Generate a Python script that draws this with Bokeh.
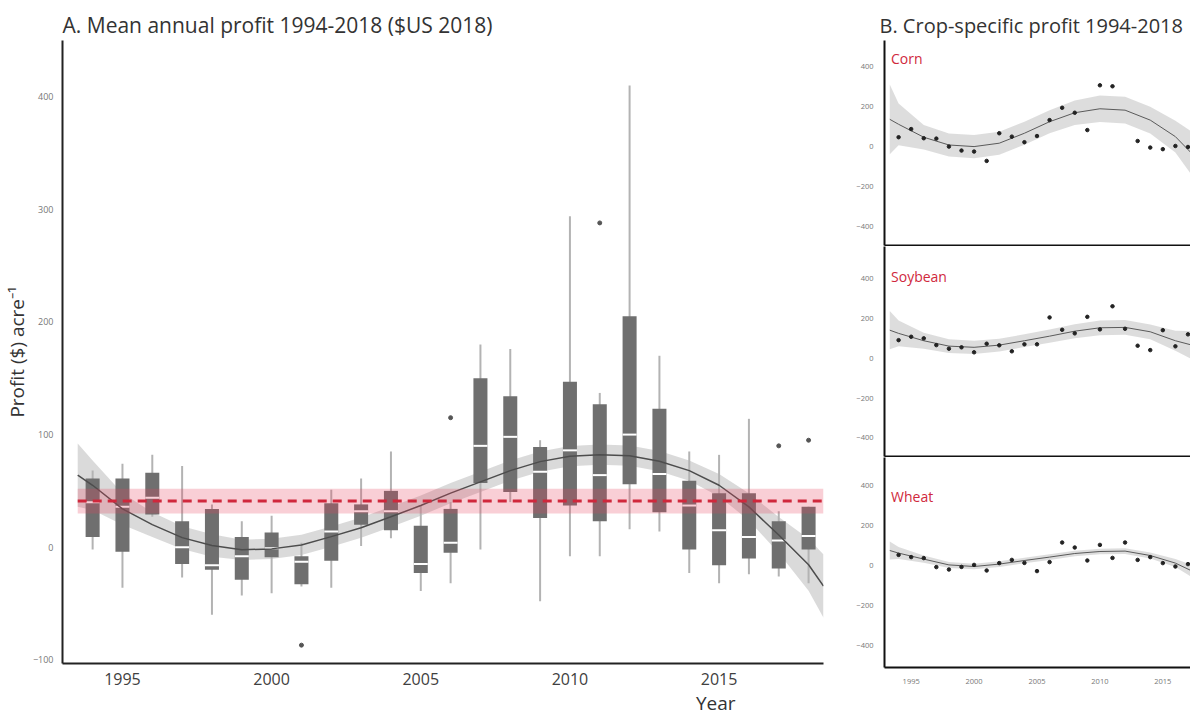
import numpy as np
from bokeh.plotting import figure
from bokeh.layouts import row, column
from bokeh.models import Range1d, FixedTicker, Label, Title
from bokeh.embed import file_html
from bokeh.resources import INLINE

# ---------------- Panel A data ----------------
years = list(range(1994, 2019))
whisker_low = [-2, -36, 27, -27, -60, -43, -41, -35, -36, 1, 8, -39, -32,
               -2, 40, -48, -8, -8, 16, 14, -23, -32, -24, -26, -32]
q1 = [9, -4, 29, -15, -20, -29, -9, -33, -12, 20, 15, -23, -5,
      57, 49, 26, 37, 23, 56, 31, -2, -16, -10, -19, -2]
median = [40, 36, 44, 0, -16, -8, -1, -13, 14, 32, 32, -15, 4,
          90, 98, 67, 86, 64, 100, 65, 37, 15, 9, 6, 10]
q3 = [61, 61, 66, 23, 34, 9, 13, -8, 39, 38, 50, 19, 34,
      150, 134, 89, 147, 127, 205, 123, 59, 48, 48, 23, 36]
whisker_high = [68, 74, 82, 72, 38, 23, 28, 4, 51, 61, 85, 37, 40,
                180, 176, 95, 294, 137, 410, 170, 85, 82, 114, 32, 36]
outlier_years = [2001, 2006, 2011, 2017, 2018]
outlier_values = [-87, 115, 288, 90, 95]

smooth_years = [1993.5] + years + [2018.5]
smooth_fit = [64, 55, 34, 20, 8.5, 1.5, -2.3, -1.5, 2, 9.4, 17.3, 27, 37, 48,
              58, 68, 76, 80.8, 82.2, 81.3, 76.4, 68, 55, 35.8, 10.8, -15.6, -34.6]
smooth_half = [28, 22, 14, 11, 10, 10, 9, 9, 9, 9, 9, 9, 9, 9,
               9, 9, 9, 9, 9, 9, 9, 9, 10, 12, 16, 23, 28]

mean_years = [1993.5, 2018.5]
mean_profit = [41, 41]
mean_low = [30, 30]
mean_high = [52, 52]

# ---------------- Panel B data ----------------
corn_years = [1994, 1995, 1996, 1997, 1998, 1999, 2000, 2001, 2002, 2003, 2004, 2005,
              2006, 2007, 2008, 2009, 2010, 2011, 2013, 2014, 2015, 2016, 2017]
corn_profit = [47, 88, 42, 40, 0, -20, -25, -72, 67, 50, 22, 53,
               133, 195, 170, 83, 308, 303, 28, -5, -13, 3, -2]
soy_years = list(range(1994, 2018))
soy_profit = [91, 108, 100, 66, 48, 55, 30, 73, 65, 35, 70, 70,
              205, 143, 125, 208, 145, 261, 148, 63, 41, 141, 60, 120]
wheat_years = list(range(1994, 2019))
wheat_profit = [53, 42, 37, -8, -20, -7, 3, -25, 12, 28, 13, -28, 17,
                115, 90, 25, 103, 38, 115, 28, 42, 12, -5, 7, 0]

fit_years = [1993.3, 1994, 1996, 1998, 2000, 2002, 2004, 2006, 2008, 2010, 2012, 2014, 2016, 2017.8]
corn_fit = [137, 112, 47, 8, 0, 17, 67, 125, 170, 190, 183, 133, 50, -67]
corn_half = [175, 105, 62, 58, 58, 58, 58, 58, 62, 67, 67, 67, 80, 120]
soy_fit = [141, 125, 88, 61, 55, 66, 88, 111, 136, 153, 155, 133, 88, 58]
soy_half = [96, 65, 40, 35, 33, 32, 32, 33, 35, 37, 37, 37, 50, 78]
wheat_fit = [75, 62, 32, 3, -5, 7, 25, 42, 60, 70, 72, 50, 12, -42]
wheat_half = [45, 30, 18, 15, 14, 14, 14, 14, 14, 14, 14, 15, 20, 35]

crop_names = ["Corn", "Soybean", "Wheat"]

FONT = "Open Sans"
RED = "#d0283c"

# ---------------- Panel A ----------------
pa = figure(frame_width=761, frame_height=623,
            x_range=Range1d(1992.99, 2018.5), y_range=Range1d(-103.3, 450),
            output_backend="svg", toolbar_location=None,
            min_border_left=55, min_border_right=19, min_border_top=40, min_border_bottom=44,
            title="A. Mean annual profit 1994-2018  ($US 2018)")
pa.title.text_font = FONT
pa.title.text_font_size = "21px"
pa.title.text_font_style = "normal"
pa.title.text_color = "#333333"
pa.title.standoff = 4
pa.title.offset = 0
pa.grid.visible = False
pa.outline_line_color = None

sy = np.array(smooth_years)
sf = np.array(smooth_fit)
sh = np.array(smooth_half)
pa.varea(x=sy, y1=sf - sh, y2=sf + sh, fill_color="#d6d6d6", fill_alpha=0.9)

pa.segment(x0=years, y0=whisker_low, x1=years, y1=whisker_high,
           line_color="#b3b3b3", line_width=2)
pa.vbar(x=years, width=0.47, bottom=q1, top=q3, fill_color="#6f6f6f", line_color=None)
pa.scatter(x=years, y=median, marker="dash", size=14, line_color="white", line_width=2)
pa.scatter(x=outlier_years, y=outlier_values, size=4, color="#555555")

pa.line(x=sy, y=sf, line_color="#4d4d4d", line_width=1.5)

pa.varea(x=mean_years, y1=mean_low, y2=mean_high, fill_color="#e8415a", fill_alpha=0.25)
pa.line(x=mean_years, y=mean_profit, line_color=RED, line_width=3, line_dash="9 6")

pa.xaxis.ticker = FixedTicker(ticks=[1995, 2000, 2005, 2010, 2015])
pa.yaxis.ticker = FixedTicker(ticks=[-100, 0, 100, 200, 300, 400])
for ax in (pa.xaxis[0], pa.yaxis[0]):
    ax.axis_line_color = "#222222"
    ax.axis_line_width = 2
    ax.major_tick_line_color = None
    ax.minor_tick_line_color = None
    ax.major_label_text_font = FONT
pa.xaxis.major_label_text_font_size = "16px"
pa.xaxis.major_label_text_color = "#404040"
pa.xaxis.major_label_standoff = 3
pa.yaxis.major_label_text_font_size = "9px"
pa.yaxis.major_label_text_color = "#777777"
pa.yaxis.major_label_standoff = 3
pa.yaxis.axis_label = "Profit ($) acre\u207b\u00b9"
pa.yaxis.axis_label_text_font = FONT
pa.yaxis.axis_label_text_font_size = "19px"
pa.yaxis.axis_label_text_font_style = "normal"
pa.yaxis.axis_label_text_color = "#333333"
pa.yaxis.axis_label_standoff = 0

pa.add_layout(Title(text="Year", align="right", offset=88, standoff=0,
                    text_font=FONT, text_font_size="19px", text_font_style="normal",
                    text_color="#333333"), "below")

# ---------------- Panel B ----------------
def crop_panel(name, xs, ys, fit, half, yr, frame_h, top_border, show_x, label_y, title=None):
    p = figure(frame_width=306, frame_height=frame_h,
               x_range=Range1d(1992.88, 2017.2), y_range=Range1d(*yr),
               output_backend="svg", toolbar_location=None,
               min_border_left=42, min_border_right=0, min_border_top=top_border,
               min_border_bottom=30 if show_x else 1, title=title)
    if title is not None:
        p.title.text_font = FONT
        p.title.text_font_size = "20px"
        p.title.text_font_style = "normal"
        p.title.text_color = "#333333"
        p.title.standoff = 4
        p.title.offset = -5
    p.grid.visible = False
    p.outline_line_color = None
    fx = np.array(fit_years)
    ff = np.array(fit)
    fh = np.array(half)
    p.varea(x=fx, y1=ff - fh, y2=ff + fh, fill_color="#d9d9d9", fill_alpha=0.9)
    p.line(x=fx, y=ff, line_color="#5a5a5a", line_width=1)
    p.scatter(x=xs, y=ys, size=3.5, color="#222222")
    p.add_layout(Label(x=1993.4, y=label_y, text=name, text_align="left",
                       text_baseline="top", text_font=FONT, text_font_size="14px",
                       text_color=RED))
    p.yaxis.ticker = FixedTicker(ticks=[-400, -200, 0, 200, 400])
    p.yaxis.major_label_text_font_size = "7.5px"
    p.yaxis.major_label_text_color = "#777777"
    p.yaxis.major_label_text_font = FONT
    p.yaxis.major_label_standoff = 5
    for ax in (p.xaxis[0], p.yaxis[0]):
        ax.axis_line_color = "#111111"
        ax.axis_line_width = 2
        ax.major_tick_line_color = None
        ax.minor_tick_line_color = None
    if show_x:
        p.xaxis.ticker = FixedTicker(ticks=[1995, 2000, 2005, 2010, 2015])
        p.xaxis.major_label_text_font_size = "7.5px"
        p.xaxis.major_label_text_color = "#777777"
        p.xaxis.major_label_text_font = FONT
        p.xaxis.major_label_standoff = 5
    else:
        p.xaxis.ticker = FixedTicker(ticks=[])
        p.xaxis.major_label_standoff = 0
        p.xaxis.major_tick_out = 0
        p.xaxis.major_tick_in = 0
    return p

pc = crop_panel(crop_names[0], corn_years, corn_profit, corn_fit, corn_half,
                (-497, 533), 205, 40, False, 488, title="B. Crop-specific profit 1994-2018")
ps = crop_panel(crop_names[1], soy_years, soy_profit, soy_fit, soy_half,
                (-493, 561), 210, 0, False, 458)
pw = crop_panel(crop_names[2], wheat_years, wheat_profit, wheat_fit, wheat_half,
                (-510, 540), 210, 0, True, 395)

layout = row(pa, column(pc, ps, pw, spacing=0), spacing=0)

open("out.html", "w").write(file_html(layout, INLINE))
